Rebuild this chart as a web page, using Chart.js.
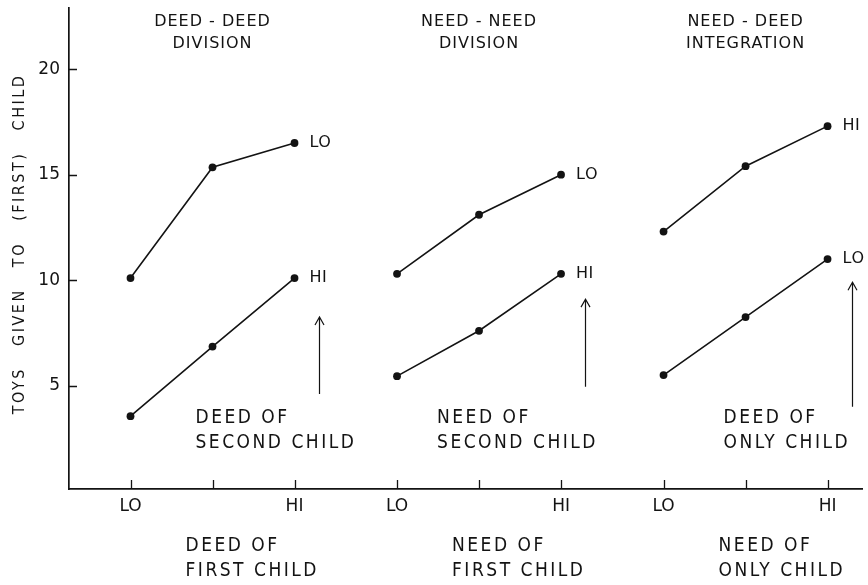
<!DOCTYPE html>
<html>
<head>
<meta charset="utf-8">
<script src="https://cdn.jsdelivr.net/npm/chart.js@4.4.1/dist/chart.umd.min.js"></script>
<style>
  html, body { margin: 0; padding: 0; background: #fff; }
  canvas { display: block; }
</style>
</head>
<body>
<canvas id="toysChart" width="868" height="585"></canvas>
<script>
// three panels, each with LO / middle / HI level of the first child's factor
const panelTitles = [['DEED - DEED', 'DIVISION'], ['NEED - NEED', 'DIVISION'], ['NEED - DEED', 'INTEGRATION']];
const levelLabels = ['LO', '', 'HI'];
const panel1X = [0, 1, 2];
const panel2X = [3.25, 4.25, 5.25];
const panel3X = [6.5, 7.5, 8.5];

// toys given to (first) child
const p1Upper = [10.1, 15.35, 16.5];
const p1Lower = [3.55, 6.85, 10.1];
const p2Upper = [10.3, 13.1, 15.0];
const p2Lower = [5.45, 7.6, 10.3];
const p3Upper = [12.3, 15.4, 17.3];
const p3Lower = [5.5, 8.25, 11.0];
const lineLabels = ['LO', 'HI', 'LO', 'HI', 'HI', 'LO'];

const yTicks = [5, 10, 15, 20];
const secondFactor = [['DEED OF', 'SECOND CHILD'], ['NEED OF', 'SECOND CHILD'], ['DEED OF', 'ONLY CHILD']];
const firstFactor = [['DEED OF', 'FIRST CHILD'], ['NEED OF', 'FIRST CHILD'], ['NEED OF', 'ONLY CHILD']];

const allX = panel1X.concat(panel2X, panel3X);
const tickNames = levelLabels.concat(levelLabels, levelLabels);
const FONT = "'DejaVu Sans', sans-serif";
const NARROW = "'DejaVu Sans Condensed', 'DejaVu Sans', sans-serif";
const INK = '#131313';

function series(xs, ys) {
    return {
        data: xs.map((x, i) => ({ x: x, y: ys[i] })),
        borderColor: INK,
        borderWidth: 1.6,
        pointRadius: 3.9,
        pointBorderWidth: 0,
        pointBackgroundColor: INK,
        tension: 0
    };
}

const extras = {
    id: 'extras',
    afterDraw(chart) {
        const ctx = chart.ctx;
        const xs = chart.scales.x;
        const ys = chart.scales.y;
        const area = chart.chartArea;
        ctx.save();
        ctx.strokeStyle = INK;
        ctx.fillStyle = INK;
        ctx.lineWidth = 1.3;

        // ticks pointing into the plot
        ctx.beginPath();
        allX.forEach(v => {
            const px = Math.round(xs.getPixelForValue(v)) + 0.5;
            ctx.moveTo(px, area.bottom);
            ctx.lineTo(px, area.bottom - 9);
        });
        yTicks.forEach(v => {
            const py = Math.round(ys.getPixelForValue(v)) + 0.5;
            ctx.moveTo(area.left, py);
            ctx.lineTo(area.left + 8, py);
        });
        ctx.stroke();

        const mids = [panel1X[1], panel2X[1], panel3X[1]].map(v => xs.getPixelForValue(v));
        ctx.textBaseline = 'middle';

        // panel titles
        ctx.font = '16px ' + FONT;
        ctx.letterSpacing = '1px';
        ctx.textAlign = 'center';
        panelTitles.forEach((t, i) => {
            ctx.fillText(t[0], mids[i], 22);
            ctx.fillText(t[1], mids[i], 44);
        });

        // labels at the end of each line
        ctx.textAlign = 'left';
        ctx.letterSpacing = '0.5px';
        chart.data.datasets.forEach((ds, i) => {
            const pts = chart.getDatasetMeta(i).data;
            const last = pts[pts.length - 1];
            ctx.fillText(lineLabels[i], last.x + 15, last.y);
        });

        // factor of the second (or only) child, and of the first child
        ctx.font = '19px ' + NARROW;
        ctx.letterSpacing = '2.5px';
        const upperOffsets = [-17, -42, -22];
        secondFactor.forEach((t, i) => {
            ctx.fillText(t[0], mids[i] + upperOffsets[i], 418);
            ctx.fillText(t[1], mids[i] + upperOffsets[i], 443);
        });
        firstFactor.forEach((t, i) => {
            ctx.fillText(t[0], mids[i] - 27, 546);
            ctx.fillText(t[1], mids[i] - 27, 571);
        });

        // upward arrows beside each panel
        const arrows = [[panel1X[2], 8.25, 4.6], [panel2X[2], 9.1, 4.95], [panel3X[2], 9.9, 4.0]];
        ctx.lineWidth = 1.2;
        arrows.forEach(a => {
            const px = Math.round(xs.getPixelForValue(a[0]) + 24) + 0.5;
            const top = ys.getPixelForValue(a[1]);
            const bottom = ys.getPixelForValue(a[2]);
            ctx.beginPath();
            ctx.moveTo(px, bottom);
            ctx.lineTo(px, top);
            ctx.moveTo(px - 4.5, top + 8);
            ctx.lineTo(px, top);
            ctx.lineTo(px + 4.5, top + 8);
            ctx.stroke();
        });

        // y axis title
        ctx.save();
        ctx.translate(20, 244);
        ctx.rotate(-Math.PI / 2);
        ctx.textAlign = 'center';
        ctx.font = '16px ' + NARROW;
        ctx.letterSpacing = '2.5px';
        ctx.fillText('TOYS   GIVEN   TO   (FIRST)   CHILD', 0, 0);
        ctx.restore();

        ctx.restore();
    }
};

new Chart(document.getElementById('toysChart').getContext('2d'), {
    type: 'line',
    data: {
        datasets: [
            series(panel1X, p1Upper),
            series(panel1X, p1Lower),
            series(panel2X, p2Upper),
            series(panel2X, p2Lower),
            series(panel3X, p3Upper),
            series(panel3X, p3Lower)
        ]
    },
    options: {
        responsive: false,
        animation: false,
        devicePixelRatio: 1,
        layout: { padding: { top: 8, right: 6, left: 0, bottom: 0 } },
        plugins: {
            legend: { display: false },
            tooltip: { enabled: false }
        },
        scales: {
            x: {
                type: 'linear',
                min: -0.75,
                max: 8.92,
                afterBuildTicks: scale => { scale.ticks = allX.map(v => ({ value: v })); },
                afterFit: scale => {
                    scale.height = 96;
                    scale.paddingLeft = 0;
                    scale.paddingRight = 0;
                },
                grid: { display: false, drawTicks: false },
                border: { display: true, color: INK, width: 1.7 },
                ticks: {
                    autoSkip: false,
                    maxRotation: 0,
                    padding: 7,
                    color: INK,
                    font: { family: FONT, size: 17 },
                    callback: (value, index) => tickNames[index]
                }
            },
            y: {
                min: 0.1,
                max: 22.9,
                afterBuildTicks: scale => { scale.ticks = yTicks.map(v => ({ value: v })); },
                afterFit: scale => {
                    scale.width = 69;
                    scale.paddingTop = 0;
                    scale.paddingBottom = 0;
                },
                grid: { display: false, drawTicks: false },
                border: { display: true, color: INK, width: 1.7 },
                ticks: {
                    padding: 9,
                    color: INK,
                    font: { family: FONT, size: 17 }
                }
            }
        }
    },
    plugins: [extras]
});
</script>
</body>
</html>
